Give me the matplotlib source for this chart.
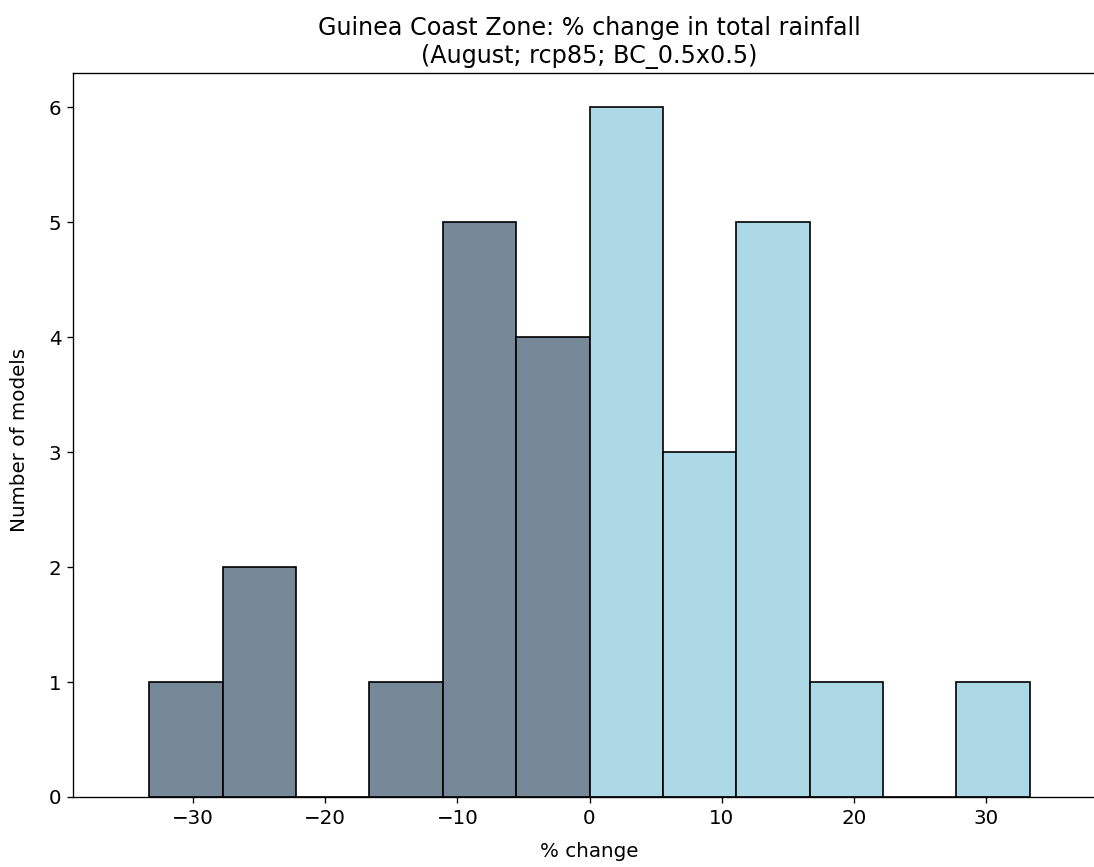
import numpy as np
import matplotlib
matplotlib.use("Agg")
import matplotlib.pyplot as plt

# histogram of model % change (bins are symmetric around 0)
bin_edges = np.linspace(-33.33, 33.33, 13)
counts = [1, 2, 0, 1, 5, 4, 6, 3, 5, 1, 0, 1]

DPI = 120
plt.rcParams["font.size"] = 11.9
fig = plt.figure(figsize=(1094 / DPI, 867 / DPI), dpi=DPI)
ax = fig.add_axes([73 / 1094, 1 - 797 / 867, (1106 - 73) / 1094, (797 - 73) / 867])

lefts = bin_edges[:-1]
widths = np.diff(bin_edges)
colors = ["lightslategray" if l < 0 else "lightblue" for l in lefts]
ax.bar(lefts, counts, width=widths, align="edge", color=colors, edgecolor="black", linewidth=1)

ax.set_xlim(-39.1, 39.1)
ax.set_ylim(0, 6.3)
ax.set_xticks([-30, -20, -10, 0, 10, 20, 30])
ax.set_xlabel("% change")
ax.set_ylabel("Number of models")
ax.yaxis.set_label_coords(-0.0426, 0.493)
ax.xaxis.set_label_coords(0.5, -0.0625)
ax.set_title("Guinea Coast Zone: % change in total rainfall\n(August; rcp85; BC_0.5x0.5)",
             x=(589.3 - 73) / (1106 - 73), fontsize=14.3)

fig.savefig("out.png", dpi=DPI)
